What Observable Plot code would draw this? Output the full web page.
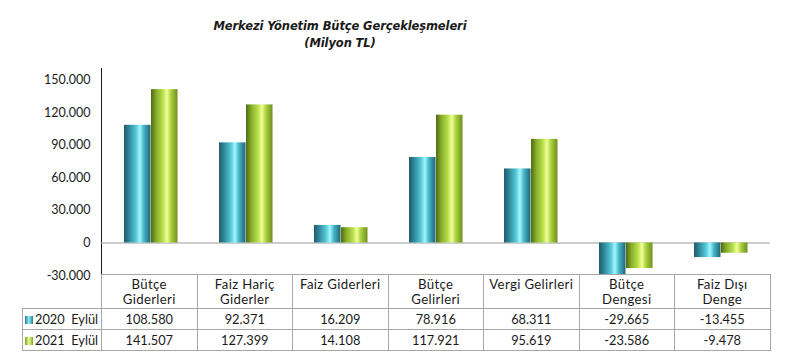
<!DOCTYPE html>
<html>
<head>
<meta charset="utf-8">
<script src="https://cdn.jsdelivr.net/npm/d3@7"></script>
<script src="https://cdn.jsdelivr.net/npm/@observablehq/plot@0.6"></script>
<style>
  html, body { margin: 0; padding: 0; background: #fff; }
  #wrap { position: relative; width: 794px; height: 360px; font-family: Lato, "DejaVu Sans", sans-serif; color: #1a1a1a; }
  #chart { position: absolute; left: 0; top: 0; }
  #title { position: absolute; left: 140px; width: 400px; top: 18px; text-align: center; font-family: "DejaVu Sans", sans-serif; font-weight: bold; font-style: italic; font-size: 11.5px; line-height: 17px; letter-spacing: -0.1px; }
  #tbl { position: absolute; left: 22px; top: 274px; border-collapse: collapse; table-layout: fixed; font-size: 12.5px; }
  #tbl td { border: 1px solid #a6a6a6; padding: 0; text-align: center; vertical-align: top; line-height: 14px; white-space: pre-line; }
  #tbl tr.head td { height: 34px; padding-top: 2px; box-sizing: border-box; font-size: 13.2px; letter-spacing: 0.35px; line-height: 14.5px; }
  #tbl tr.val td { height: 20px; vertical-align: middle; font-size: 12.8px; }
  #tbl td.lab { text-align: left; padding-left: 2px; white-space: pre; }
  .sw { display: inline-block; width: 8px; height: 8px; margin-right: 2px; vertical-align: 0px; }
</style>
</head>
<body>
<div id="wrap">
  <div id="chart"></div>
  <div id="title">Merkezi Yönetim Bütçe Gerçekleşmeleri<br>(Milyon TL)</div>
  <table id="tbl"></table>
</div>
<script>
const categories = ["Bütçe\nGiderleri", "Faiz Hariç\nGiderler", "Faiz Giderleri", "Bütçe\nGelirleri", "Vergi Gelirleri", "Bütçe\nDengesi", "Faiz Dışı\nDenge"];
const seriesNames = ["2020  Eylül", "2021  Eylül"];
const values2020 = [108580, 92371, 16209, 78916, 68311, -29665, -13455];
const values2021 = [141507, 127399, 14108, 117921, 95619, -23586, -9478];
const yTicks = [-30000, 0, 30000, 60000, 90000, 120000, 150000];
const yDomain = [-30000, 161000];

const fmt = d3.formatLocale({decimal: ",", thousands: ".", grouping: [3], currency: ["", ""], minus: "-"}).format(",d");

const rows2020 = categories.map((c, i) => ({category: c, value: values2020[i]}));
const rows2021 = categories.map((c, i) => ({category: c, value: values2021[i]}));

function gradDefs() {
  const defs = d3.create("svg:defs");
  const t = defs.append("linearGradient").attr("id", "gTeal").attr("x1", 0).attr("x2", 1).attr("y1", 0).attr("y2", 0);
  [[0, "#215a69"], [0.2, "#2f8a9d"], [0.45, "#55c8d9"], [0.6, "#a4f6ff"], [0.75, "#45b6c9"], [1, "#226473"]]
    .forEach(([o, c]) => t.append("stop").attr("offset", o).attr("stop-color", c));
  const g = defs.append("linearGradient").attr("id", "gGreen").attr("x1", 0).attr("x2", 1).attr("y1", 0).attr("y2", 0);
  [[0, "#4f6a12"], [0.2, "#86ad2c"], [0.45, "#b8e04a"], [0.6, "#f2ff98"], [0.75, "#a9d23e"], [1, "#6f8f1e"]]
    .forEach(([o, c]) => g.append("stop").attr("offset", o).attr("stop-color", c));
  return defs.node();
}

const plot = Plot.plot({
  width: 794,
  height: 290,
  marginLeft: 101,
  marginRight: 24,
  marginTop: 68,
  marginBottom: 15,
  style: {fontFamily: "Lato, 'DejaVu Sans', sans-serif", fontSize: "12.5px", color: "#1a1a1a", background: "transparent"},
  x: {domain: categories, padding: 0, axis: null},
  y: {domain: yDomain, ticks: yTicks, tickFormat: fmt, tickSize: 0, tickPadding: 11, label: null, line: true},
  marks: [
    gradDefs,
    Plot.ruleY([0], {stroke: "#9a9a9a", strokeWidth: 1}),
    Plot.barY(rows2020, {x: "category", y: "value", fill: "url(#gTeal)", insetLeft: 21, insetRight: 47.5}),
    Plot.barY(rows2021, {x: "category", y: "value", fill: "url(#gGreen)", insetLeft: 48, insetRight: 20.5})
  ]
});
document.getElementById("chart").appendChild(plot);
d3.select(plot).selectAll("[aria-label='y-axis line'] line, [aria-label='y-axis line'] path").attr("stroke", "#9a9a9a");

// Table
const tbl = d3.select("#tbl");
const cg = tbl.append("colgroup");
cg.append("col").style("width", "79px");
categories.forEach(() => cg.append("col").style("width", "95.5px"));
const head = tbl.append("tr").attr("class", "head");
head.append("td").style("border-top", "none").style("border-left", "none");
categories.forEach(c => head.append("td").text(c));
[[values2020, "linear-gradient(90deg,#2a7a8c,#8eeefa,#2a7a8c)"],
 [values2021, "linear-gradient(90deg,#7fa62a,#e4ff8a,#7fa62a)"]].forEach(([vals, bg], k) => {
  const tr = tbl.append("tr").attr("class", "val");
  const lab = tr.append("td").attr("class", "lab");
  lab.append("span").attr("class", "sw").style("background", bg);
  lab.append("span").text(seriesNames[k]);
  vals.forEach(v => tr.append("td").text(fmt(v)));
});
</script>
</body>
</html>
